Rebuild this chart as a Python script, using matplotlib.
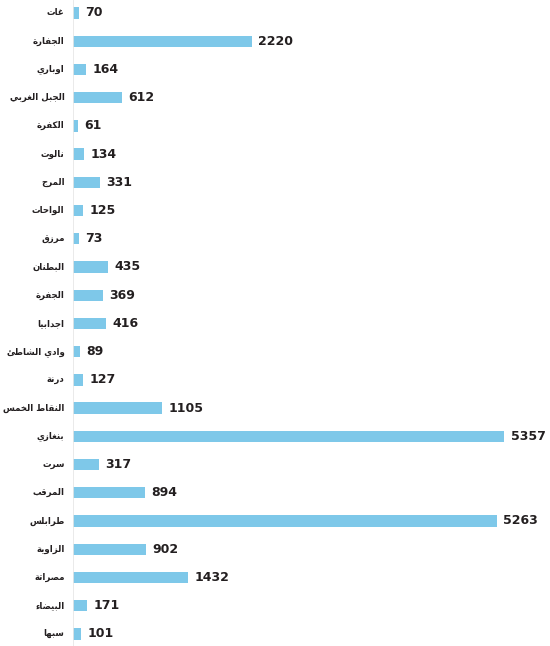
import matplotlib
matplotlib.use('Agg')
import matplotlib.pyplot as plt

regions = ['غات', 'الجفارة', 'اوباري', 'الجبل الغربي', 'الكفرة', 'نالوت', 'المرج',
           'الواحات', 'مرزق', 'البطنان', 'الجفرة', 'اجدابيا', 'وادي الشاطئ', 'درنة',
           'النقاط الخمس', 'بنغازي', 'سرت', 'المرقب', 'طرابلس', 'الزاوية', 'مصراتة',
           'البيضاء', 'سبها']
values = [70, 2220, 164, 612, 61, 134, 331, 125, 73, 435, 369, 416, 89, 127,
          1105, 5357, 317, 894, 5263, 902, 1432, 171, 101]

# presentation forms: isolated, final, initial, medial
forms = {
    'ء': [0xFE80], 'آ': [0xFE81, 0xFE82], 'أ': [0xFE83, 0xFE84], 'ؤ': [0xFE85, 0xFE86],
    'إ': [0xFE87, 0xFE88], 'ئ': [0xFE89, 0xFE8A, 0xFE8B, 0xFE8C], 'ا': [0xFE8D, 0xFE8E],
    'ب': [0xFE8F, 0xFE90, 0xFE91, 0xFE92], 'ة': [0xFE93, 0xFE94],
    'ت': [0xFE95, 0xFE96, 0xFE97, 0xFE98], 'ث': [0xFE99, 0xFE9A, 0xFE9B, 0xFE9C],
    'ج': [0xFE9D, 0xFE9E, 0xFE9F, 0xFEA0], 'ح': [0xFEA1, 0xFEA2, 0xFEA3, 0xFEA4],
    'خ': [0xFEA5, 0xFEA6, 0xFEA7, 0xFEA8], 'د': [0xFEA9, 0xFEAA], 'ذ': [0xFEAB, 0xFEAC],
    'ر': [0xFEAD, 0xFEAE], 'ز': [0xFEAF, 0xFEB0], 'س': [0xFEB1, 0xFEB2, 0xFEB3, 0xFEB4],
    'ش': [0xFEB5, 0xFEB6, 0xFEB7, 0xFEB8], 'ص': [0xFEB9, 0xFEBA, 0xFEBB, 0xFEBC],
    'ض': [0xFEBD, 0xFEBE, 0xFEBF, 0xFEC0], 'ط': [0xFEC1, 0xFEC2, 0xFEC3, 0xFEC4],
    'ظ': [0xFEC5, 0xFEC6, 0xFEC7, 0xFEC8], 'ع': [0xFEC9, 0xFECA, 0xFECB, 0xFECC],
    'غ': [0xFECD, 0xFECE, 0xFECF, 0xFED0], 'ف': [0xFED1, 0xFED2, 0xFED3, 0xFED4],
    'ق': [0xFED5, 0xFED6, 0xFED7, 0xFED8], 'ك': [0xFED9, 0xFEDA, 0xFEDB, 0xFEDC],
    'ل': [0xFEDD, 0xFEDE, 0xFEDF, 0xFEE0], 'م': [0xFEE1, 0xFEE2, 0xFEE3, 0xFEE4],
    'ن': [0xFEE5, 0xFEE6, 0xFEE7, 0xFEE8], 'ه': [0xFEE9, 0xFEEA, 0xFEEB, 0xFEEC],
    'و': [0xFEED, 0xFEEE], 'ى': [0xFEEF, 0xFEF0], 'ي': [0xFEF1, 0xFEF2, 0xFEF3, 0xFEF4],
}


def shape(word):
    out = []
    i = 0
    prev_joins = False
    while i < len(word):
        c = word[i]
        if c not in forms:
            out.append(c)
            prev_joins = False
            i += 1
            continue
        nxt = word[i + 1] if i + 1 < len(word) else ''
        if c == 'ل' and nxt == 'ا':
            out.append(chr(0xFEFC if prev_joins else 0xFEFB))
            prev_joins = False
            i += 2
            continue
        f = forms[c]
        dual = len(f) == 4
        next_joins = dual and nxt in forms
        if len(f) == 1:
            g = f[0]
        elif prev_joins and next_joins:
            g = f[3]
        elif next_joins:
            g = f[2]
        elif prev_joins:
            g = f[1]
        else:
            g = f[0]
        out.append(chr(g))
        prev_joins = dual
        i += 1
    return ''.join(out)[::-1]


fig = plt.figure(figsize=(5.5, 6.46), dpi=100)
ax = fig.add_axes([73 / 550, 0, 1 - 73 / 550, 1])
y = list(range(len(regions)))
ax.barh(y, values, height=0.4, color='#7ec8e9')
for yi, v in zip(y, values):
    ax.text(v + 80, yi, str(v), va='center', ha='left', fontsize=9,
            fontweight='bold', color='#231f20')
    ax.text(-105, yi, shape(regions[yi]), va='center', ha='right', fontsize=6.2,
            fontweight='bold', color='#231f20', family='DejaVu Sans')
ax.set_xlim(0, 5925)
ax.set_ylim(22.43, -0.46)
for s in ['top', 'right', 'bottom']:
    ax.spines[s].set_visible(False)
ax.spines['left'].set_color('#e6e6e6')
ax.spines['left'].set_linewidth(0.6)
ax.set_xticks([])
ax.set_yticks([])
fig.savefig('out.png', dpi=100)
